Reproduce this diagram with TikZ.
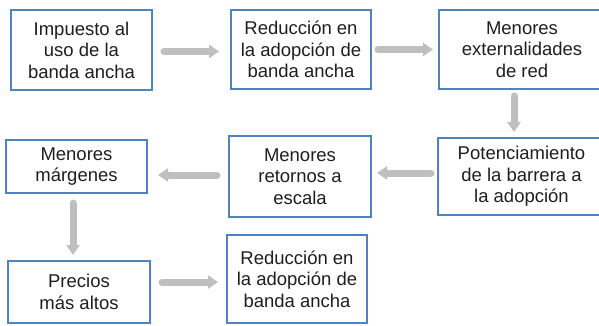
\documentclass[tikz,border=0pt]{standalone}
\usepackage{fontspec}
\setmainfont{Liberation Sans}
\usetikzlibrary{arrows.meta}
\definecolor{boxblue}{RGB}{79,132,192}
\definecolor{arrgray}{RGB}{191,191,191}
\definecolor{txt}{RGB}{30,30,30}
\begin{document}
\begin{tikzpicture}[x=1pt,y=1pt,
  box/.style={draw=boxblue,line width=2pt,rectangle,align=center,text=txt,
    inner sep=0pt,outer sep=0pt,font=\fontsize{18.5}{21.5}\selectfont},
  garrow/.style={draw=arrgray,line width=7pt,line cap=round,
    -{Triangle[length=10pt,width=13pt]}}]
\useasboundingbox (0,0) rectangle (599,-325);
\node[box,minimum width=141pt,minimum height=80pt] (b1) at (81.5,-50) {Impuesto al\\uso de la\\banda ancha};
\node[box,minimum width=140pt,minimum height=79pt] (b2) at (301,-49.5) {Reducción en\\la adopción de\\banda ancha};
\node[box,minimum width=166pt,minimum height=79pt] (b3) at (522,-49.5) {Menores\\externalidades\\de red};
\node[box,minimum width=167pt,minimum height=77pt] (b4) at (521.5,-176.5) {Potenciamiento\\de la barrera a\\la adopción};
\node[box,minimum width=142pt,minimum height=81pt] (b5) at (300,-176.5) {Menores\\retornos a\\escala};
\node[box,minimum width=141pt,minimum height=53pt] (b6) at (76.5,-166.5) {Menores\\márgenes};
\node[box,minimum width=142pt,minimum height=62pt] (b7) at (79,-292) {Precios\\más altos};
\node[box,minimum width=140pt,minimum height=88pt] (b8) at (297,-279) {Reducción en\\la adopción de\\banda ancha};
\draw[garrow,shorten <=12pt,shorten >=12pt] ([yshift=-1.5pt]b1.east) -- ([yshift=-1.5pt]b1.east -| b2.west);
\draw[garrow,shorten <=7pt,shorten >=6pt] (b2.east) -- (b2.east -| b3.west);
\draw[garrow,shorten <=7pt,shorten >=6pt] ([xshift=-8pt]b3.south) -- ([xshift=-8pt]b3.south |- b4.north);
\draw[garrow,shorten <=7pt,shorten >=6pt] ([yshift=3.5pt]b4.west) -- ([yshift=3.5pt]b4.west -| b5.east);
\draw[garrow,shorten <=12pt,shorten >=11pt] ([yshift=1.5pt]b5.west) -- ([yshift=1.5pt]b5.west -| b6.east);
\draw[garrow,shorten <=10pt,shorten >=6pt] ([xshift=-3.5pt]b6.south) -- ([xshift=-3.5pt]b6.south |- b7.north);
\draw[garrow,shorten <=12pt,shorten >=9pt] ([yshift=10pt]b7.east) -- ([yshift=10pt]b7.east -| b8.west);
\end{tikzpicture}
\end{document}
